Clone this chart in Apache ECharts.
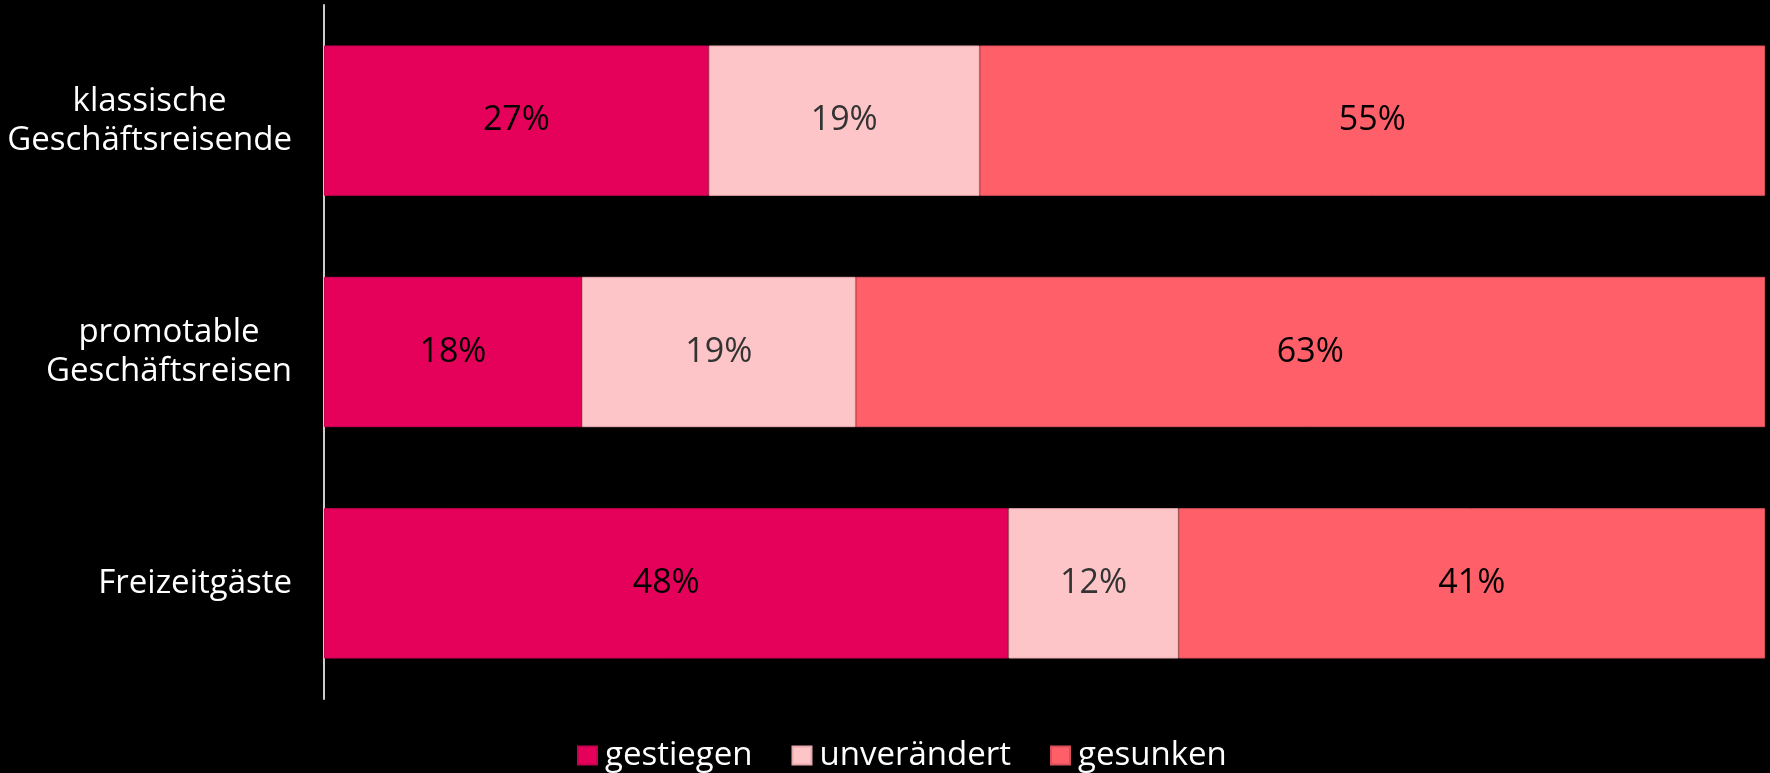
<!DOCTYPE html>
<html>
<head>
<meta charset="utf-8">
<script src="https://cdn.jsdelivr.net/npm/echarts@6/dist/echarts.min.js"></script>
<style>
    html, body { margin: 0; padding: 0; background: #000; }
    #chart { width: 1770px; height: 773px; }
</style>
</head>
<body>
<div id="chart"></div>
<script>
// categories (top to bottom)
var categories = ['klassische\nGeschäftsreisende', 'promotable\nGeschäftsreisen', 'Freizeitgäste'];
var seriesNames = ['gestiegen', 'unverändert', 'gesunken'];
// shares in percent
var gestiegen = [26.7, 17.9, 47.5];
var unveraendert = [18.8, 19.0, 11.8];
var gesunken = [54.5, 63.1, 40.7];

var colors = ['#E5005A', '#FDC5C8', '#FF5F69'];
var borders = ['#c80050', '#e8a9ad', '#d9505a'];
var labelColors = ['#000', '#333', '#000'];
var fontFamily = '"Open Sans", "Noto Sans", sans-serif';

var chart = echarts.init(document.getElementById('chart'));

function makeSeries(name, data, i) {
    return {
        name: name,
        type: 'bar',
        stack: 'total',
        data: data,
        barCategoryGap: '35%',
        itemStyle: {
            color: colors[i],
            borderColor: borders[i],
            borderWidth: 1
        },
        label: {
            show: true,
            position: 'inside',
            color: labelColors[i],
            fontFamily: fontFamily,
            fontSize: 34,
            formatter: function (p) { return Math.round(p.value) + '%'; }
        },
        emphasis: { disabled: true }
    };
}

var option = {
    backgroundColor: '#000',
    animation: false,
    grid: {
        left: 324,
        right: 5,
        top: 5,
        bottom: 74
    },
    legend: {
        data: seriesNames,
        left: 572,
        top: 734,
        icon: 'rect',
        itemWidth: 19,
        itemHeight: 18,
        itemGap: 39,
        textStyle: {
            color: '#fff',
            fontFamily: fontFamily,
            fontSize: 33,
            padding: [0, 0, 0, 3]
        }
    },
    xAxis: {
        type: 'value',
        min: 0,
        max: 100,
        show: false
    },
    yAxis: {
        type: 'category',
        data: categories,
        inverse: true,
        axisLine: { show: true, lineStyle: { color: '#cccccc', width: 2 } },
        axisTick: { show: false },
        axisLabel: {
            margin: 32,
            align: 'right',
            // lines centred on each other, block right-aligned to the axis
            formatter: function (value) {
                return value.split('\n').map(function (line) {
                    return '{c|' + line + '}';
                }).join('\n');
            },
            rich: {
                c: {
                    color: '#fff',
                    fontFamily: fontFamily,
                    fontSize: 33,
                    lineHeight: 39,
                    align: 'center'
                }
            }
        }
    },
    series: [
        makeSeries(seriesNames[0], gestiegen, 0),
        makeSeries(seriesNames[1], unveraendert, 1),
        makeSeries(seriesNames[2], gesunken, 2)
    ]
};

chart.setOption(option);
</script>
</body>
</html>
